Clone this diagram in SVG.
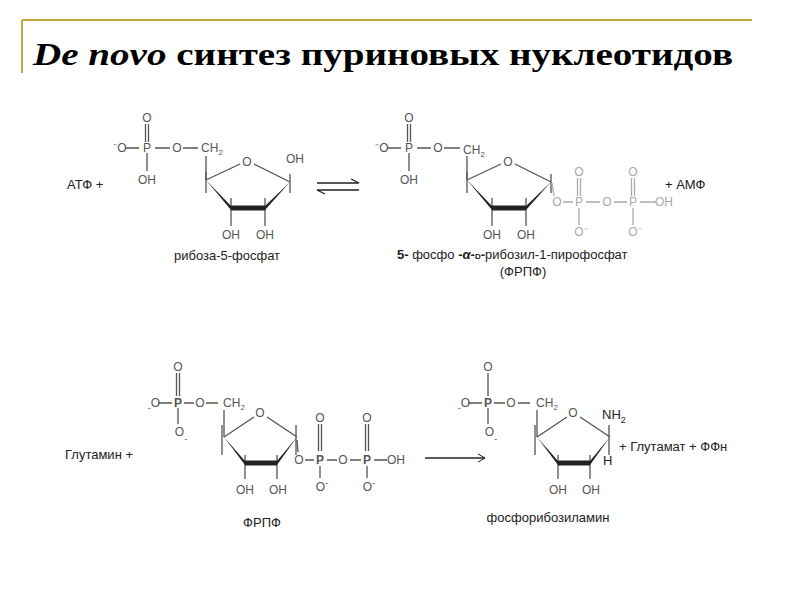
<svg xmlns="http://www.w3.org/2000/svg" width="800" height="600" viewBox="0 0 800 600">
<style>
text{font-family:"Liberation Sans",Arial,sans-serif}
.m{font-size:12px;fill:#555;text-anchor:middle}
.g{font-size:12px;fill:#aaa;text-anchor:middle}
.l{font-size:13px;fill:#222}
.b{stroke:#555;stroke-width:1.3;fill:none}
.gb{stroke:#aaa;stroke-width:1.3;fill:none}
.k{stroke:#222;stroke-width:1.3;fill:none}
.t{font-family:"Liberation Serif","Times New Roman",serif;font-size:31px;font-weight:bold;fill:#000}
</style>
<defs>
<g id="ringA">
<path class="b" d="M0,0 L34,-16 M48,-16 L84,2 M0,-8 V13 M84,-6 V13 M25,18 V46 M59,18 V46"/>
<polygon points="0,0 25,26 25,30" fill="#222"/>
<line x1="25" y1="28" x2="59" y2="28" stroke="#222" stroke-width="5"/>
<polygon points="59,26 59,30 84,2" fill="#222"/>
<text class="m" x="41" y="-14">O</text>
<text class="m" x="25" y="59">OH</text>
<text class="m" x="59" y="59">OH</text>
</g>
<g id="ringB">
<path class="b" d="M0,0 L30,-20 M43,-20 L73,0 M-2,-12 V18 M72,-12 V18 M21,18 V42 M53,18 V42"/>
<polygon points="0,0 21,24 21,28" fill="#222"/>
<line x1="21" y1="26" x2="53" y2="26" stroke="#222" stroke-width="5"/>
<polygon points="53,24 53,28 73,0" fill="#222"/>
<text class="m" x="36" y="-20">O</text>
<text class="m" x="21" y="57">OH</text>
<text class="m" x="54" y="57">OH</text>
</g>
<marker id="ch" markerWidth="10" markerHeight="10" refX="8" refY="5" orient="auto" markerUnits="userSpaceOnUse"><path d="M1,1 L8,5 L1,9" fill="none" stroke="#222" stroke-width="1"/></marker>
</defs>
<rect width="800" height="600" fill="#fff"/>
<g id="frame" stroke="#c8a640" stroke-width="2"><line x1="22" y1="20" x2="752" y2="20"/><line x1="22" y1="20" x2="22" y2="73"/></g>
<text class="t" x="33" y="65" textLength="700" lengthAdjust="spacingAndGlyphs"><tspan font-style="italic">De novo</tspan> синтез  пуриновых нуклеотидов</text>

<g id="ribose5p">
<text class="m" x="147" y="122">O</text>
<path class="b" d="M145.5,124 V142 M148.5,124 V142 M125,148 H139 M155,148 H170 M183,148 H198 M147,153 V171 M206,156 V180"/>
<text class="m" x="120" y="152">⁻O</text>
<text class="m" x="147" y="152">P</text>
<text class="m" x="177" y="152">O</text>
<text class="m" x="212" y="152">CH<tspan font-size="8" dy="3">2</tspan></text>
<text class="m" x="147" y="184">OH</text>
<use href="#ringA" x="206" y="180"/>
<text class="m" x="295" y="163">OH</text>
<text class="l" x="227" y="260" text-anchor="middle">рибоза-5-фосфат</text>
</g>
<text id="atp" class="l" x="67" y="189">АТФ +</text>
<g id="eq" class="k"><path d="M317,183 H359 L351,179 M359,190 H317 L325,194"/></g>

<g id="prpp">
<text class="m" x="409" y="122">O</text>
<path class="b" d="M407.5,124 V142 M410.5,124 V142 M387,148 H401 M417,148 H431 M444,148 H460 M409,153 V171 M467,156 V180"/>
<text class="m" x="382" y="152">⁻O</text>
<text class="m" x="409" y="152">P</text>
<text class="m" x="438" y="152">O</text>
<text class="m" x="474" y="154">CH<tspan font-size="8" dy="3">2</tspan></text>
<text class="m" x="409" y="184">OH</text>
<use href="#ringA" x="467" y="180"/>
<path class="gb" d="M552,183 L554,196 M563,202 H573 M586,202 H600 M614,202 H627 M640,202 H656 M577.5,178 V196 M580.5,178 V196 M631.5,178 V196 M634.5,178 V196 M579,208 V225 M633,208 V225"/>
<text class="g" x="557" y="206">O</text>
<text class="g" x="579" y="206">P</text>
<text class="g" x="607" y="206">O</text>
<text class="g" x="633" y="206">P</text>
<text class="g" x="664" y="206">OH</text>
<text class="g" x="579" y="176">O</text>
<text class="g" x="633" y="176">O</text>
<text class="g" x="581" y="236">O⁻</text>
<text class="g" x="635" y="236">O⁻</text>
<text class="l" x="397" y="259"><tspan font-weight="bold">5-</tspan> фосфо <tspan font-weight="bold">-<tspan font-style="italic">α</tspan>-<tspan font-size="8">D</tspan>-</tspan>рибозил-1-пирофосфат</text>
<text class="l" x="523" y="276" text-anchor="middle">(ФРПФ)</text>
</g>
<text id="amp" class="l" x="665" y="189">+   АМФ</text>

<g id="prpp2">
<text class="m" x="178" y="371">O</text>
<path class="b" d="M176.5,373 V396 M179.5,373 V396 M158,403 H172 M184,403 H194 M206,403 H218 M178,408 V424 M224,410 V437"/>
<text class="m" x="154" y="407"><tspan font-size="9" dy="4">-</tspan><tspan dy="-4">O</tspan></text>
<text class="m" x="178" y="407" font-weight="bold">P</text>
<text class="m" x="200" y="407">O</text>
<text class="m" x="234" y="407">CH<tspan font-size="8" dy="3">2</tspan></text>
<text class="m" x="181" y="436">O<tspan font-size="9" dy="6">-</tspan></text>
<use href="#ringB" x="224" y="437"/>
<path class="b" d="M297,440 L298,452 M305,460 H314 M327,460 H337 M350,460 H361 M374,460 H387 M318.5,424 V451 M321.5,424 V451 M365.5,424 V451 M368.5,424 V451 M320,466 V478 M367,466 V478"/>
<text class="m" x="299" y="464">O</text>
<text class="m" x="320" y="464" font-weight="bold">P</text>
<text class="m" x="343" y="464">O</text>
<text class="m" x="367" y="464" font-weight="bold">P</text>
<text class="m" x="396" y="464">OH</text>
<text class="m" x="320" y="422">O</text>
<text class="m" x="367" y="422">O</text>
<text class="m" x="322" y="491">O<tspan font-size="9" dy="-5">-</tspan></text>
<text class="m" x="369" y="491">O<tspan font-size="9" dy="-5">-</tspan></text>
<text class="l" x="262" y="527" text-anchor="middle" font-size="14">ФРПФ</text>
</g>
<text id="gln" class="l" x="65" y="459" font-size="14">Глутамин +</text>
<g id="conn"><line class="k" x1="425" y1="458" x2="485" y2="458" marker-end="url(#ch)"/></g>

<g id="pra">
<text class="m" x="488" y="371">O</text>
<path class="b" d="M488,373 V396 M468,403 H482 M494,403 H505 M518,403 H530 M488,408 V424 M537,410 V437"/>
<text class="m" x="464" y="407"><tspan font-size="9" dy="4">-</tspan><tspan dy="-4">O</tspan></text>
<text class="m" x="488" y="407" font-weight="bold">P</text>
<text class="m" x="511" y="407">O</text>
<text class="m" x="547" y="407">CH<tspan font-size="8" dy="3">2</tspan></text>
<text class="m" x="491" y="436">O<tspan font-size="9" dy="6">-</tspan></text>
<use href="#ringB" x="537" y="437"/>
<text class="l" x="602" y="419" font-size="14">NH<tspan font-size="9" dy="4">2</tspan></text>
<text class="l" x="603" y="465" font-size="14">H</text>
<text class="l" x="548" y="522" text-anchor="middle" font-size="14">фосфорибозиламин</text>
</g>
<text id="glu" class="l" x="619" y="451" font-size="14">+ Глутамат + ФФн</text>
</svg>
